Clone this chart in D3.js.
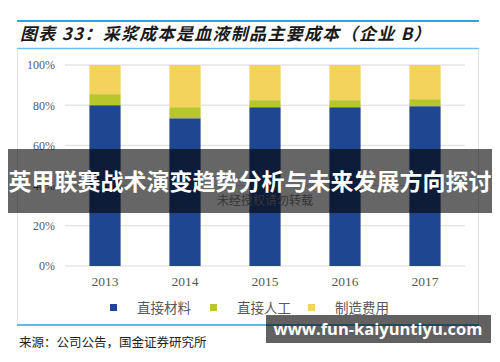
<!DOCTYPE html>
<html>
<head>
<meta charset="utf-8">
<script src="https://cdn.jsdelivr.net/npm/d3@7"></script>
<style>
  body { margin: 0; background: #fff; }
  svg { display: block; }
</style>
</head>
<body>
<script>
// data
const years = ["2013", "2014", "2015", "2016", "2017"];
const material = [80.0, 73.5, 79.0, 79.0, 79.5];   // 直接材料
const labor = [5.5, 5.5, 3.5, 3.5, 3.5];           // 直接人工
const overhead = [14.5, 21.0, 17.5, 17.5, 17.0];   // 制造费用
const seriesNames = ["直接材料", "直接人工", "制造费用"];
const yTicks = [0, 20, 40, 60, 80, 100];

const colors = ["#1f4690", "#b7c62b", "#f3d35b"];
const W = 500, H = 362;
const plot = { left: 65, right: 465, top: 65, bottom: 266 };

const svg = d3.select("body").append("svg")
    .attr("width", W)
    .attr("height", H);

// header lines + title
svg.append("line").attr("x1", 17).attr("x2", 479).attr("y1", 21).attr("y2", 21)
    .attr("stroke", "#2aa4e6").attr("stroke-width", 2);
svg.append("text").attr("x", 20).attr("y", 40)
    .attr("font-family", "'Noto Sans CJK SC', sans-serif")
    .attr("font-size", 17).attr("font-weight", "bold").attr("font-style", "italic")
    .attr("letter-spacing", 1.3)
    .attr("fill", "#1a1a1a")
    .text("图表 33：采浆成本是血液制品主要成本（企业 B）");
svg.append("line").attr("x1", 17).attr("x2", 479).attr("y1", 48.5).attr("y2", 48.5)
    .attr("stroke", "#6cc0ee").attr("stroke-width", 1.5);

// chart frame
svg.append("path")
    .attr("d", `M17.5,50 V324 M478.5,50 V324`)
    .attr("stroke", "#e2e2e2").attr("fill", "none");

const x = d3.scaleBand().domain(years).range([plot.left, plot.right]).paddingInner(0.61).paddingOuter(0.305);
const y = d3.scaleLinear().domain([0, 100]).range([plot.bottom, plot.top]);

// grid
svg.append("g").selectAll("line").data(yTicks).join("line")
    .attr("x1", plot.left).attr("x2", plot.right)
    .attr("y1", d => y(d)).attr("y2", d => y(d))
    .attr("stroke", "#d9d9d9").attr("stroke-width", 1);

const yAxis = svg.append("g")
    .attr("transform", `translate(${plot.left},0)`)
    .call(d3.axisLeft(y).tickValues(yTicks).tickFormat(d => d + "%").tickSize(0).tickPadding(10));
yAxis.select(".domain").remove();
yAxis.selectAll("text")
    .attr("font-family", "'Liberation Serif', serif").attr("font-size", 12).attr("fill", "#595959");

const xAxis = svg.append("g")
    .attr("transform", `translate(0,${plot.bottom})`)
    .call(d3.axisBottom(x).tickSize(0).tickPadding(10));
xAxis.select(".domain").remove();
xAxis.selectAll("text")
    .attr("font-family", "'Liberation Serif', serif").attr("font-size", 13.5).attr("fill", "#595959");

// stacked bars
const rows = years.map((yr, i) => ({ year: yr, a: material[i], b: labor[i], c: overhead[i] }));
const stacked = d3.stack().keys(["a", "b", "c"])(rows);

svg.append("g").selectAll("g").data(stacked).join("g")
    .attr("fill", (d, i) => colors[i])
    .selectAll("rect").data(d => d).join("rect")
    .attr("x", d => x(d.data.year))
    .attr("width", x.bandwidth())
    .attr("y", d => y(Math.min(d[1], 100)))
    .attr("height", d => y(d[0]) - y(Math.min(d[1], 100)));

// legend
const legendX = [110, 210, 308];
const lg = svg.append("g").selectAll("g").data(seriesNames).join("g")
    .attr("transform", (d, i) => `translate(${legendX[i]},304)`);
lg.append("rect").attr("width", 7).attr("height", 7).attr("fill", (d, i) => colors[i]);
lg.append("text").attr("x", 27).attr("y", 9)
    .attr("font-family", "'Noto Sans CJK SC', sans-serif").attr("font-size", 13.5)
    .attr("fill", "#595959").text(d => d);

// bottom line + source
svg.append("line").attr("x1", 17).attr("x2", 479).attr("y1", 325).attr("y2", 325)
    .attr("stroke", "#2aa4e6").attr("stroke-width", 1.5);
svg.append("text").attr("x", 19).attr("y", 347)
    .attr("font-family", "'Noto Sans CJK SC', serif").attr("font-size", 12.5)
    .attr("fill", "#222").text("来源：公司公告，国金证券研究所");

// watermark under the banner
svg.append("text").attr("x", 265).attr("y", 205).attr("text-anchor", "middle")
    .attr("font-family", "'Noto Sans CJK SC', sans-serif").attr("font-size", 12)
    .attr("fill", "#888").text("未经授权请勿转载");

// overlay banners
svg.append("rect").attr("x", 8).attr("y", 149).attr("width", 484).attr("height", 64)
    .attr("fill", "#000").attr("fill-opacity", 0.6);
svg.append("text").attr("x", 250).attr("y", 190).attr("text-anchor", "middle")
    .attr("font-family", "'Noto Sans CJK SC', sans-serif").attr("font-size", 23).attr("font-weight", "bold")
    .attr("fill", "#fff").text("英甲联赛战术演变趋势分析与未来发展方向探讨");

svg.append("rect").attr("x", 266).attr("y", 315).attr("width", 225).attr("height", 28)
    .attr("fill", "#000").attr("fill-opacity", 0.62);
svg.append("text").attr("x", 378).attr("y", 335).attr("text-anchor", "middle")
    .attr("font-family", "'Open Sans', sans-serif").attr("font-size", 16.5).attr("font-weight", "bold")
    .attr("fill", "#fff").text("www.fun-kaiyuntiyu.com");
</script>
</body>
</html>
